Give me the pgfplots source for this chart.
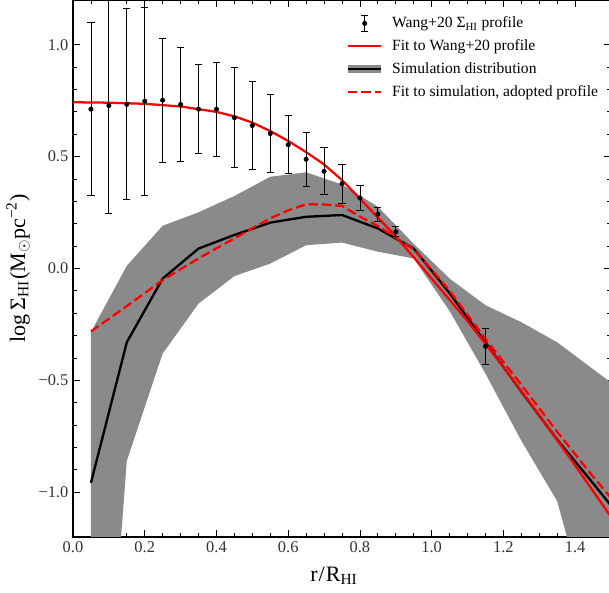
\documentclass[border=0pt]{standalone}
\usepackage{pgfplots}
\pgfplotsset{compat=1.18}
\usepackage{fontspec}
\setmainfont{Liberation Serif}
\definecolor{band}{RGB}{138,138,138}
\definecolor{fitred}{RGB}{255,0,0}

\pgfplotstableread{
x y e
0.05 0.712 0.387
0.10 0.728 0.480
0.15 0.734 0.427
0.20 0.748 0.420
0.25 0.752 0.276
0.30 0.733 0.253
0.35 0.712 0.198
0.40 0.712 0.210
0.45 0.674 0.224
0.50 0.639 0.196
0.55 0.603 0.175
0.60 0.553 0.130
0.65 0.488 0.120
0.70 0.434 0.105
0.75 0.379 0.088
0.80 0.315 0.055
0.85 0.243 0.032
0.90 0.164 0.022
1.15 -0.348 0.080
}\wangdata

\pgfplotstableread{
x y
0.00 0.743
0.10 0.741
0.20 0.736
0.30 0.724
0.40 0.700
0.45 0.680
0.50 0.652
0.55 0.614
0.60 0.570
0.65 0.520
0.70 0.465
0.75 0.395
0.80 0.312
0.85 0.228
0.90 0.143
0.95 0.050
1.00 -0.045
1.10 -0.235
1.20 -0.440
1.30 -0.655
1.40 -0.880
1.50 -1.110
1.55 -1.225
}\wangfit

\pgfplotstableread{
x y
0.05 -0.958
0.15 -0.330
0.25 -0.045
0.35 0.089
0.45 0.150
0.55 0.205
0.65 0.231
0.75 0.239
0.85 0.179
0.95 0.089
1.05 -0.110
1.15 -0.330
1.25 -0.550
1.35 -0.765
1.45 -0.960
1.55 -1.160
}\simmed

\pgfplotstableread{
x y
0.05 -0.284
0.15 0.012
0.25 0.191
0.35 0.251
0.45 0.324
0.55 0.410
0.65 0.430
0.75 0.375
0.85 0.276
0.95 0.110
1.05 -0.045
1.15 -0.164
1.25 -0.240
1.35 -0.330
1.45 -0.450
1.55 -0.570
1.55 -2.200
1.45 -1.630
1.35 -1.040
1.25 -0.770
1.15 -0.470
1.05 -0.190
0.95 0.045
0.85 0.075
0.75 0.116
0.65 0.104
0.55 0.022
0.45 -0.034
0.35 -0.157
0.25 -0.380
0.15 -0.860
0.05 -3.000
}\simband

\pgfplotstableread{
x y
0.05 -0.281
0.10 -0.225
0.15 -0.168
0.20 -0.110
0.25 -0.052
0.30 -0.003
0.35 0.045
0.40 0.090
0.45 0.134
0.50 0.180
0.55 0.224
0.60 0.260
0.65 0.287
0.70 0.286
0.75 0.280
0.80 0.232
0.85 0.190
0.90 0.138
0.95 0.085
1.00 -0.005
1.05 -0.100
1.15 -0.315
1.25 -0.520
1.35 -0.730
1.45 -0.930
1.55 -1.120
}\simfit

\begin{document}
\begin{tikzpicture}
\begin{axis}[
  width=403.5pt, height=402.75pt, scale only axis,
  xmin=0, xmax=1.5, ymin=-1.2, ymax=1.2,
  xtick={0,0.2,0.4,0.6,0.8,1.0,1.2,1.4},
  xticklabels={0.0,0.2,0.4,0.6,0.8,1.0,1.2,1.4},
  ytick={-1,-0.5,0,0.5,1},
  yticklabels={−1.0,−0.5,0.0,0.5,1.0},
  minor x tick num=3, minor y tick num=4,
  tick align=inside,
  major tick length=5.25pt, minor tick length=3pt,
  every tick/.style={black, line width=0.6pt},
  axis line style={black, line width=0.9pt},
  ticklabel style={font=\fontsize{12.3}{14}\selectfont, text=black!80},
  xlabel={r\kern0.8pt/\kern0.8pt R\textsubscript{HI}},
  ylabel={log\kern3pt Σ\textsubscript{HI}\kern1pt(M\textsubscript{$\odot$}pc\textsuperscript{−2})},
  label style={font=\fontsize{16.5}{19}\selectfont},
  xlabel style={at={(axis description cs:0.485,-0.072)}, anchor=center},
  ylabel style={at={(axis description cs:-0.102,0.5)}, anchor=center},
  legend style={draw=none, fill=none, inner sep=0pt,
    at={(axis description cs:0.503,0.974)}, anchor=north west,
    font=\fontsize{11.7}{13.5}\selectfont, row sep=3.4pt,
    nodes={inner xsep=5pt}},
  legend cell align=left,
]
\addlegendimage{legend image code/.code={
  \draw[black, line width=0.6pt] (12.5pt,-5.9pt) -- (12.5pt,5.9pt);
  \draw[black, line width=0.6pt] (9.8pt,-5.9pt) -- (15.2pt,-5.9pt);
  \draw[black, line width=0.6pt] (9.8pt,5.9pt) -- (15.2pt,5.9pt);
  \fill[black] (12.5pt,0pt) circle (1.65pt);}}
\addlegendentry{Wang+20 Σ\textsubscript{HI} profile}
\addlegendimage{legend image code/.code={
  \draw[fitred, line width=1.7pt] (0pt,0pt) -- (25pt,0pt);}}
\addlegendentry{Fit to Wang+20 profile}
\addlegendimage{legend image code/.code={
  \draw[band, line width=6.25pt] (0pt,0pt) -- (25pt,0pt);
  \draw[black, line width=1.75pt] (0pt,0pt) -- (25pt,0pt);}}
\addlegendentry{Simulation distribution}
\addlegendimage{legend image code/.code={
  \draw[fitred, line width=1.7pt, dash pattern=on 7pt off 3pt] (0pt,0pt) -- (25pt,0pt);}}
\addlegendentry{Fit to simulation, adopted profile}

\addplot[fill=band, draw=none, forget plot] table {\simband} -- cycle;
\addplot[black, line width=1.75pt, forget plot] table {\simmed};
\addplot[fitred, line width=1.7pt, forget plot] table {\wangfit};
\addplot[fitred, line width=1.7pt, dash pattern=on 7pt off 3pt, forget plot] table {\simfit};
\addplot[black, only marks, mark=*, mark size=1.65pt, forget plot,
  error bars/.cd, y dir=both, y explicit,
  error bar style={black, line width=0.6pt},
  error mark options={rotate=90, mark size=2.7pt, line width=0.6pt, black}]
  table[x=x, y=y, y error=e] {\wangdata};
\end{axis}
\pgfresetboundingbox
\path[use as bounding box] ([xshift=-54.75pt,yshift=-41.25pt]current axis.south west) rectangle ([xshift=-1.5pt]current axis.north east);
\end{tikzpicture}
\end{document}
